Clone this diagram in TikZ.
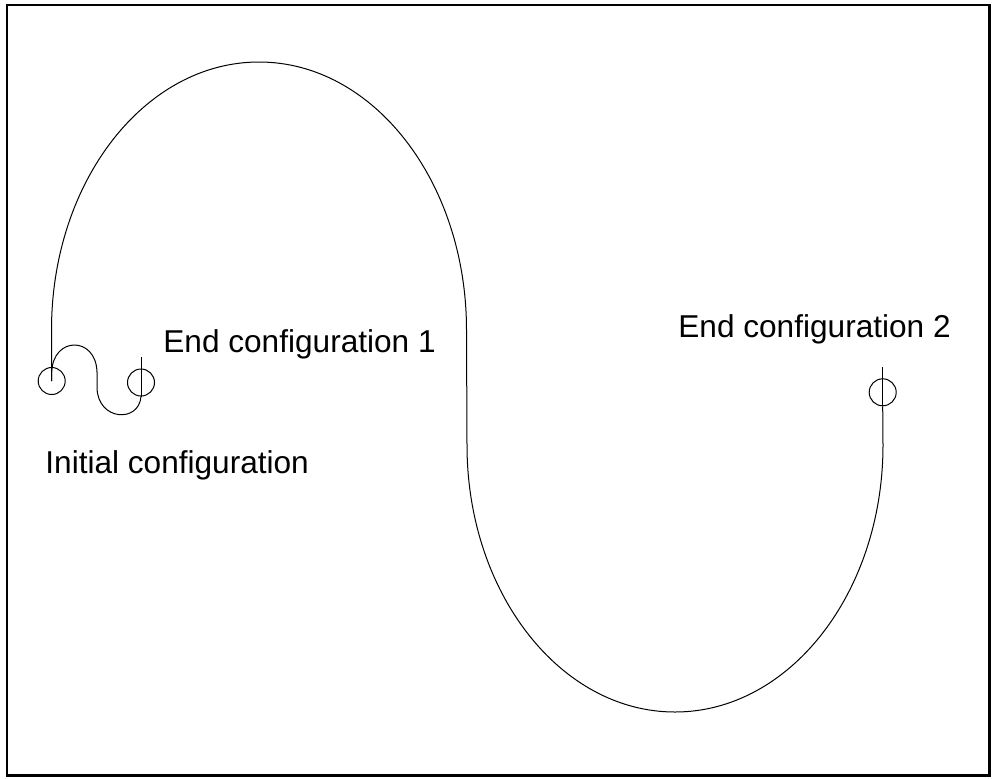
\documentclass[tikz,border=0pt]{standalone}
\usepackage{fontspec}
\setmainfont{Liberation Sans}
\begin{document}
\begin{tikzpicture}[x=0.5pt,y=-0.5pt,
  path/.style={line width=0.5pt},
  config/.style={circle,draw,line width=0.5pt,inner sep=0pt,minimum size=13.5pt},
  lbl/.style={anchor=base west,inner sep=0pt,font=\fontsize{15.8pt}{19pt}\selectfont},
  frame/.style={line width=1.35pt}]
\useasboundingbox (0,0) rectangle (996,778);
\draw[frame] (7,5) rectangle (989.5,775.3);
% configurations
\node[config] (init) at (51.7,381) {};
\node[config] (end1) at (141,382.5) {};
\node[config] (end2) at (882.7,392.3) {};
\coordinate (h1) at (141,357);
\coordinate (h2) at (882.7,367);
% labels
\node[lbl] (l1) at (163,352) {End configuration 1};
\node[lbl] (l2) at (678,337) {End configuration 2};
\node[lbl] (l0) at (45,473) {Initial configuration};
% short path to end configuration 1
\draw[path] (init.center) -- (51.7,372) .. controls (53,336) and (96,336) .. (97,372)
  -- (97,388) .. controls (98,421) and (139,423) .. (end1.south);
\draw[path] (end1.south) -- (h1);
% long path to end configuration 2
\draw[path] (init.center) -- (51.5,330)
  arc[start angle=180,end angle=0,x radius=103.75pt,y radius=134pt]
  -- (467,445)
  arc[start angle=180,end angle=360,x radius=104pt,y radius=133.5pt]
  -- (end2.south);
\draw[path] (end2.south) -- (h2);
\end{tikzpicture}
\end{document}
